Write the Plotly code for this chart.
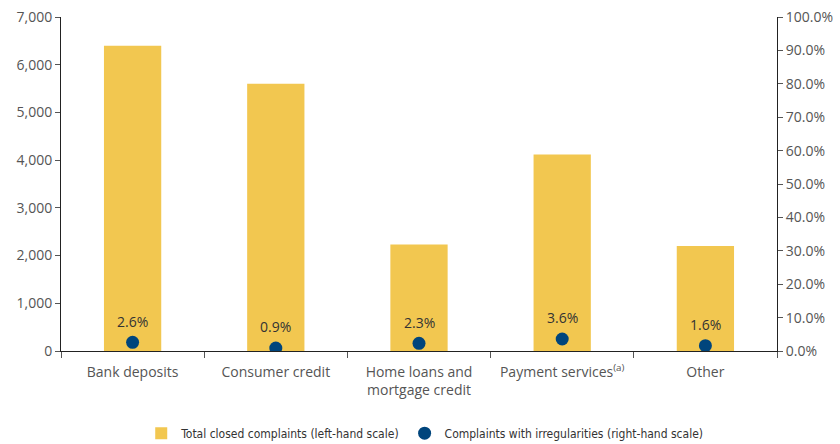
import plotly.graph_objects as go

categories = ["Bank deposits", "Consumer credit", "Home loans and<br>mortgage credit",
              "Payment services<sup>(a)</sup>", "Other"]
closed_complaints = [6400, 5600, 2230, 4120, 2200]
irregular_share = [2.6, 0.9, 2.3, 3.6, 1.6]

left_ticks = [0, 1000, 2000, 3000, 4000, 5000, 6000, 7000]
right_ticks = [0, 10, 20, 30, 40, 50, 60, 70, 80, 90, 100]

BAR = "#F2C750"
DOT = "#00457C"
TICK_FONT = dict(family="Open Sans", size=14, color="#555555")
LEGEND_FONT = "DejaVu Sans Condensed, Liberation Sans Narrow, Roboto, sans-serif"

fig = go.Figure()
fig.add_trace(go.Bar(
    x=categories, y=closed_complaints, name="Total closed complaints (left-hand scale)",
    marker=dict(color=BAR, line=dict(width=0)), width=0.4, yaxis="y",
))
fig.add_trace(go.Scatter(
    x=categories, y=irregular_share, name="Complaints with irregularities (right-hand scale)",
    mode="markers", yaxis="y2",
    marker=dict(color=DOT, size=13),
))

# value labels above each dot
for cat, v in zip(categories, irregular_share):
    fig.add_annotation(x=cat, y=v, xref="x", yref="y2", text=f"{v:.1f}%",
                       showarrow=False, yshift=21,
                       font=dict(family="Open Sans", size=14, color="#333333"))

fig.update_layout(
    width=840, height=444, margin=dict(l=61, r=63, t=17, b=93, autoexpand=False),
    paper_bgcolor="white", plot_bgcolor="white",
    showlegend=True,
    legend=dict(orientation="h", x=0.508, xanchor="center", y=-0.246, yanchor="middle",
                font=dict(family=LEGEND_FONT, size=12, color="#333333"),
                itemwidth=30, tracegroupgap=0),
    xaxis=dict(type="category", showline=True, linecolor="#222222", linewidth=1,
               ticks="outside", tickson="boundaries", ticklen=6, tickcolor="#555555",
               tickfont=TICK_FONT, showgrid=False, range=[-0.5, 4.5],
               ticklabelstandoff=8),
    yaxis=dict(range=[0, 7000], tickvals=left_ticks, tickformat=",d",
               showline=True, linecolor="#222222", linewidth=1, ticks="outside",
               ticklen=5, tickcolor="#555555", tickfont=TICK_FONT, showgrid=False,
               zeroline=False),
    yaxis2=dict(range=[0, 100], tickvals=right_ticks,
                ticktext=[f"{v:.1f}%" for v in right_ticks], overlaying="y", side="right",
                showline=True, linecolor="#222222", linewidth=1, ticks="outside",
                ticklen=5, tickcolor="#555555", tickfont=TICK_FONT, showgrid=False,
                zeroline=False),
)

fig.write_html("out.html")
